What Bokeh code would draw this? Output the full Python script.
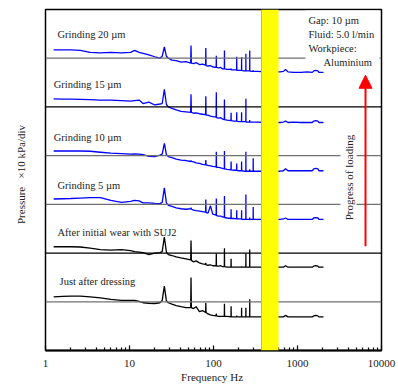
import math
from bokeh.plotting import figure
from bokeh.models import (Span, BoxAnnotation, Label, Arrow, NormalHead,
                          ColumnDataSource, FixedTicker, NumeralTickFormatter)
from bokeh.core.properties import value
from bokeh.embed import file_html
from bokeh.resources import INLINE

# ---------------- data ----------------
# common frequency grid, Hz (spikes are harmonics of ~27 Hz)
freq = [1.25, 1.6, 2.0, 2.6, 3.4, 4.5, 6.0, 8.0, 10.3, 11.5,
        13.0, 14.5, 17.0, 20.0, 23.0, 24.5, 26.0, 27.5, 29.0, 32.0,
        36.0, 41.0, 47.0, 53.5, 54.0, 54.5, 58.0, 62.0, 68.0, 74.0,
        80.5, 81.0, 81.5, 86.0, 92.0, 98.0, 107.5, 108.0, 108.5, 115.0,
        122.0, 128.0, 134.5, 135.0, 135.5, 145.0, 161.5, 162.0, 162.5, 175.0,
        188.5, 189.0, 189.5, 200.0, 215.5, 216.0, 216.5, 230.0, 242.5, 243.0,
        243.5, 255.0, 269.5, 270.0, 270.5, 283.0, 296.5, 297.0, 297.5, 330.0,
        450.0, 620.0, 680.0, 720.0, 770.0, 900.0, 1100.0, 1300.0, 1500.0, 1560.0,
        1650.0, 1750.0, 1800.0, 2040.0]

# pressure relative to each trace's own zero line (divisions)
grinding_20 = [0.17, 0.17, 0.17, 0.16, 0.12, 0.11, 0.12, 0.11, 0.12, 0.16,
               0.12, 0.10, 0.07, 0.03, 0.00, 0.04, 0.23, 0.04, 0.00, -0.04,
               -0.05, -0.08, -0.07, -0.10, 0.26, -0.10, -0.11, -0.09, -0.13, -0.12,
               -0.14, 0.21, -0.15, -0.16, -0.15, -0.18, -0.19, 0.05, -0.19, -0.20,
               -0.19, -0.22, -0.22, 0.16, -0.22, -0.23, -0.23, -0.21, -0.24, -0.24,
               -0.24, 0.03, -0.25, -0.25, -0.25, 0.02, -0.25, -0.26, -0.26, 0.09,
               -0.26, -0.26, -0.26, 0.16, -0.26, -0.27, -0.27, -0.25, -0.27, -0.27,
               -0.28, -0.28, -0.27, -0.23, -0.28, -0.29, -0.29, -0.28, -0.29, -0.26,
               -0.25, -0.26, -0.29, -0.29]
grinding_15 = [0.165, 0.16, 0.16, 0.155, 0.15, 0.14, 0.14, 0.13, 0.12, 0.13,
               0.14, 0.07, 0.10, 0.04, 0.06, 0.07, 0.36, 0.05, 0.00, -0.03,
               -0.06, -0.09, -0.10, -0.11, 0.26, -0.11, -0.13, -0.12, -0.14, -0.15,
               -0.16, 0.22, -0.17, -0.17, -0.19, -0.20, -0.21, 0.30, -0.22, -0.23,
               -0.22, -0.25, -0.26, 0.15, -0.26, -0.27, -0.28, -0.12, -0.28, -0.29,
               -0.29, -0.11, -0.29, -0.30, -0.30, -0.11, -0.30, -0.30, -0.30, 0.17,
               -0.31, -0.31, -0.31, -0.27, -0.31, -0.31, -0.31, -0.31, -0.31, -0.31,
               -0.32, -0.32, -0.31, -0.29, -0.32, -0.31, -0.32, -0.32, -0.32, -0.29,
               -0.28, -0.29, -0.32, -0.32]
grinding_10 = [0.095, 0.095, 0.095, 0.095, 0.09, 0.07, 0.05, 0.04, 0.03, 0.035,
               0.03, 0.02, -0.015, -0.02, 0.01, 0.03, 0.25, 0.02, -0.02, -0.04,
               -0.07, -0.09, -0.10, -0.12, -0.10, -0.12, -0.13, -0.15, -0.16, -0.18,
               -0.19, -0.09, -0.19, -0.20, -0.21, -0.22, -0.23, 0.08, -0.24, -0.24,
               -0.25, -0.26, -0.27, 0.095, -0.27, -0.28, -0.29, -0.12, -0.29, -0.30,
               -0.30, -0.16, -0.30, -0.31, -0.31, -0.12, -0.31, -0.32, -0.32, 0.08,
               -0.32, -0.32, -0.32, -0.28, -0.32, -0.32, -0.32, -0.055, -0.32, -0.32,
               -0.32, -0.32, -0.31, -0.27, -0.31, -0.31, -0.31, -0.31, -0.31, -0.27,
               -0.26, -0.27, -0.31, -0.31]
grinding_5 = [0.11, 0.115, 0.12, 0.13, 0.14, 0.14, 0.08, 0.04, 0.06, 0.08,
              0.07, 0.03, 0.03, 0.02, 0.015, 0.04, 0.34, 0.03, -0.02, -0.04,
              -0.07, -0.09, -0.10, -0.09, -0.07, -0.10, -0.12, -0.13, -0.14, -0.15,
              -0.16, 0.10, -0.17, -0.18, -0.03, -0.20, -0.22, 0.12, -0.23, -0.24,
              -0.24, -0.26, -0.26, 0.17, -0.27, -0.28, -0.29, -0.10, -0.29, -0.29,
              -0.30, -0.12, -0.30, -0.30, -0.30, -0.12, -0.31, -0.31, -0.31, 0.20,
              -0.31, -0.31, -0.31, -0.27, -0.31, -0.31, -0.31, -0.055, -0.31, -0.31,
              -0.31, -0.31, -0.30, -0.28, -0.31, -0.31, -0.31, -0.31, -0.31, -0.28,
              -0.27, -0.28, -0.31, -0.31]
after_wear_suj2 = [0.13, 0.13, 0.13, 0.125, 0.10, 0.07, 0.06, 0.07, 0.05, 0.03,
                   0.02, 0.01, -0.03, 0.00, 0.01, 0.03, 0.33, 0.02, -0.03, -0.05,
                   -0.08, -0.10, -0.12, -0.14, 0.26, -0.15, -0.18, -0.16, -0.20, -0.22,
                   -0.23, -0.20, -0.24, -0.25, -0.24, -0.26, -0.26, -0.01, -0.27, -0.27,
                   -0.26, -0.28, -0.28, 0.10, -0.28, -0.29, -0.29, -0.115, -0.29, -0.29,
                   -0.29, -0.29, -0.29, -0.29, -0.29, -0.27, -0.29, -0.29, -0.29, -0.01,
                   -0.29, -0.29, -0.29, 0.075, -0.29, -0.29, -0.29, -0.29, -0.29, -0.29,
                   -0.29, -0.29, -0.29, -0.26, -0.29, -0.29, -0.29, -0.29, -0.29, -0.27,
                   -0.26, -0.27, -0.29, -0.29]
after_dressing = [0.10, 0.11, 0.115, 0.115, 0.10, 0.08, 0.05, 0.03, 0.03, 0.03,
                  0.01, -0.02, -0.03, -0.035, -0.02, 0.03, 0.32, 0.02, -0.02, -0.05,
                  -0.08, -0.10, -0.12, -0.12, 0.50, -0.12, -0.14, -0.10, -0.20, -0.18,
                  -0.22, -0.02, -0.22, -0.25, -0.27, -0.28, -0.29, -0.24, -0.29, -0.30,
                  -0.30, -0.30, -0.30, -0.04, -0.30, -0.30, -0.31, -0.09, -0.31, -0.31,
                  -0.31, -0.28, -0.31, -0.31, -0.31, -0.12, -0.31, -0.31, -0.31, -0.12,
                  -0.31, -0.31, -0.31, 0.05, -0.31, -0.31, -0.31, -0.31, -0.31, -0.31,
                  -0.31, -0.31, -0.31, -0.28, -0.31, -0.31, -0.31, -0.31, -0.31, -0.29,
                  -0.28, -0.29, -0.31, -0.31]

series_values = [grinding_20, grinding_15, grinding_10, grinding_5,
                 after_wear_suj2, after_dressing]
series_names = ["Grinding 20 µm", "Grinding 15 µm", "Grinding 10 µm",
                "Grinding 5 µm", "After initial wear with SUJ2", "Just after dressing"]
series_colors = ["#0000ff", "#0000ff", "#0000ff", "#0000ff", "#000000", "#000000"]
zero_levels = [6, 5, 4, 3, 2, 1]
zero_line_colors = ["#707070", "#000000", "#707070", "#707070", "#000000", "#707070"]

label_x = [1.39, 1.25, 1.25, 1.39, 1.39, 1.47]
label_y = [6.49, 5.46, 4.37, 3.39, 2.42, 1.42]

x_ticks = [1, 10, 100, 1000, 10000]
band_low_hz, band_high_hz = 373, 594

info_lines = ["Gap: 10 µm", "Fluid: 5.0 l/min", "Workpiece:", "Aluminium"]
info_x = [1352, 1352, 1352, 2040]
info_y = [6.775, 6.488, 6.20, 5.913]

FONT = "Liberation Serif"

# ---------------- figure ----------------
p = figure(width=396, height=387, x_axis_type="log", x_range=(1, 10000),
           y_range=(0, 7), output_backend="svg", toolbar_location=None,
           min_border_left=45, min_border_right=15, min_border_top=9,
           min_border_bottom=37)
p.background_fill_color = "white"
p.border_fill_color = "white"
p.outline_line_color = "black"
p.outline_line_width = 1.5
p.xgrid.visible = False
p.ygrid.visible = False

# x axis
p.xaxis.ticker = FixedTicker(ticks=x_ticks,
                             minor_ticks=[m * d for d in [1, 10, 100, 1000] for m in range(2, 10)])
p.xaxis.formatter = NumeralTickFormatter(format="0")
p.xaxis.axis_line_width = 2
p.xaxis.axis_line_color = "black"
p.xaxis.major_tick_in = 5
p.xaxis.major_tick_out = 0
p.xaxis.minor_tick_in = 3
p.xaxis.minor_tick_out = 0
p.xaxis.major_tick_line_width = 1.2
p.xaxis.minor_tick_line_width = 1.2
p.xaxis.major_label_text_font = FONT
p.xaxis.major_label_text_font_size = "11px"
p.xaxis.major_label_text_color = "#222222"
p.xaxis.major_label_standoff = 9
p.xaxis.axis_label = "Frequency  Hz"
p.xaxis.axis_label_text_font = FONT
p.xaxis.axis_label_text_font_size = "11px"
p.xaxis.axis_label_text_font_style = "normal"
p.xaxis.axis_label_text_color = "#222222"
p.xaxis.axis_label_standoff = 1

# y axis: label only
p.yaxis.ticker = FixedTicker(ticks=[])
p.yaxis.axis_line_color = None
p.yaxis.major_tick_line_color = None
p.yaxis.minor_tick_line_color = None
p.yaxis.major_label_text_font_size = "0px"
p.yaxis.axis_label = "\u00a0\u00a0\u00a0\u00a0Pressure\u00a0\u00a0\u00a0×10 kPa/div"
p.yaxis.axis_label_text_font = FONT
p.yaxis.axis_label_text_font_size = "11px"
p.yaxis.axis_label_text_font_style = "normal"
p.yaxis.axis_label_text_color = "#222222"
p.yaxis.axis_label_standoff = 19

# zero lines of each trace
for lvl, col in zip(zero_levels, zero_line_colors):
    p.add_layout(Span(location=lvl, dimension="width", line_color=col, line_width=1.2))

# spectra
for vals, lvl, col in zip(series_values, zero_levels, series_colors):
    src = ColumnDataSource(dict(f=freq, y=[lvl + v for v in vals]))
    p.line("f", "y", source=src, line_color=col, line_width=1.3)

# series labels
lab_src = ColumnDataSource(dict(x=label_x, y=label_y, t=series_names))
p.text("x", "y", text="t", source=lab_src, text_font=value(FONT),
       text_font_size="10.5px", text_baseline="middle", text_align="left",
       text_color="#222222")

# yellow band (excluded frequency region)
p.add_layout(Span(location=band_low_hz, dimension="height", line_color="#808080",
                  line_width=1))
p.add_layout(BoxAnnotation(left=band_low_hz, right=band_high_hz, fill_color="#ffff00",
                           fill_alpha=1.0, line_color=None))

# info box (white background)
p.add_layout(BoxAnnotation(left=1245, right=9470, top=6.98, bottom=5.83,
                           fill_color="white", fill_alpha=1.0, line_color=None))
info_src = ColumnDataSource(dict(x=info_x, y=info_y, t=info_lines))
p.text("x", "y", text="t", source=info_src, text_font=value(FONT),
       text_font_size="10.5px", text_baseline="middle", text_align="left",
       text_color="#222222", level="overlay")

# progress arrow
p.add_layout(Arrow(end=NormalHead(size=13, fill_color="red", line_color="red"),
                   x_start=6450, y_start=2.14, x_end=6450, y_end=5.65,
                   line_color="red", line_width=2))
p.add_layout(Label(x=4050, y=3.55, text="Progress of loading", angle=math.pi / 2,
                   text_align="center", text_baseline="middle", text_font=FONT,
                   text_font_size="11px", text_color="#222222",
                   background_fill_color="white", background_fill_alpha=1.0,
                   padding=2))

open("out.html", "w").write(file_html(p, INLINE))
